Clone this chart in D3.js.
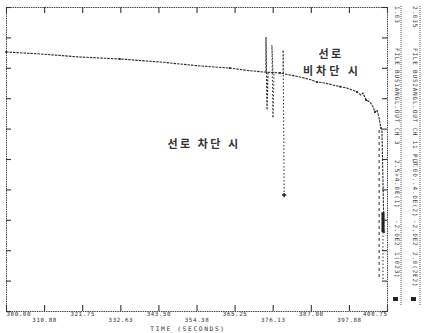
<!DOCTYPE html>
<html>
<head>
<meta charset="utf-8">
<script src="https://cdn.jsdelivr.net/npm/d3@7"></script>
<style>
  body { margin: 0; background: #fff; }
  svg { display: block; }
  text { font-family: "DejaVu Sans Mono", monospace; fill: #333; }
</style>
</head>
<body>
<div id="chart"></div>
<script>
// tick values / labels
const timeTicks = [300.00, 310.88, 321.75, 332.63, 343.50, 354.38, 365.25, 376.13, 387.00, 397.88, 408.75];
const timeLabels = ["300.00", "310.88", "321.75", "332.63", "343.50", "354.38", "365.25", "376.13", "387.00", "397.88", "408.75"];
const angleTicks = [-200, -160, -120, -80, -40, 0, 40, 80, 120, 160, 200];

// main trace
const traceTime = [300.0, 309.7, 321.1, 332.5, 344.0, 355.4, 363.9, 369.0, 373.4, 378.2, 383.9, 386.5, 388.8,
  391.0, 393.3, 395.4, 397.3, 399.0, 400.2, 401.3, 401.9, 402.8, 403.9, 404.8, 405.3, 405.9, 406.5, 407.0, 407.3, 407.6, 407.9];
const traceAngle = [140.8, 138.2, 134.2, 131.6, 127.6, 122.4, 119.7, 116.5, 114.5, 113.2, 107.9, 105.0, 101.3,
  100.0, 97.4, 95.2, 93.4, 90.5, 88.2, 84.2, 86.8, 77.6, 75.0, 68.4, 61.8, 64.5, 54.0, 40.8, 38.2, -27.6, -96.1];

// switching spikes
const spikeATime = [374.2, 374.2, 374.5, 374.8];
const spikeAAngle = [114.5, 160.5, 64.5, 114.5];
const spikeBTime = [376.2, 375.9, 376.2, 376.5];
const spikeBAngle = [113.2, 150.0, 54.0, 113.2];
const spikeCTime = [379.1, 379.1, 379.4];
const spikeCAngle = [111.8, 143.4, -47.4];

// tails after the fall
const tailATime = [407.6, 407.6];
const tailAAngle = [-96.1, -159.2];
const tailBTime = [406.5, 406.5];
const tailBAngle = [38.2, -159.2];

// right hand legend columns (rotated)
const legend1 = ["1.03", "FILE  BUS1ANGL.OUT  CH 3", "2.5+4.0E(1)", "-2.0E2", "1(023)"];
const legend2 = ["2.035", "FILE  BUS2ANGL.OUT  CH 11  PLT", "3.00..4.0E(2)", "-2.0E2", "2.0(2E2)"];

const W = 425, H = 333;
const x = d3.scaleLinear().domain([300, 408.75]).range([6, 387]);
const y = d3.scaleLinear().domain([-200, 200]).range([311, 7]);

const svg = d3.select("#chart").append("svg")
  .attr("width", W)
  .attr("height", H);

// axes
const bottom = svg.append("g")
  .attr("transform", "translate(0," + y(-200) + ")")
  .call(d3.axisBottom(x).tickValues(timeTicks).tickSize(-6).tickFormat((d, i) => timeLabels[i]));
bottom.selectAll("text")
  .attr("font-size", 5.8)
  .attr("letter-spacing", 0.6)
  .attr("y", (d, i) => i % 2 ? 6.5 : 0.5)
  .attr("text-anchor", (d, i) => i === 0 ? "start" : i === timeLabels.length - 1 ? "end" : "middle");

svg.append("g")
  .attr("transform", "translate(0," + y(200) + ")")
  .call(d3.axisTop(x).tickValues(timeTicks).tickSize(-6).tickFormat(""));
svg.append("g")
  .attr("transform", "translate(" + x(300) + ",0)")
  .call(d3.axisLeft(y).tickValues(angleTicks).tickSize(-5).tickFormat(""));
svg.append("g")
  .attr("transform", "translate(" + x(408.75) + ",0)")
  .call(d3.axisRight(y).tickValues(angleTicks).tickSize(-5).tickFormat(""));

svg.selectAll(".domain")
  .attr("stroke", "#444")
  .attr("stroke-dasharray", "1.5,0.8");
svg.selectAll(".tick line")
  .attr("stroke", "#333")
  .attr("stroke-width", 1.1);

svg.append("text")
  .attr("x", 188)
  .attr("y", 330.5)
  .attr("text-anchor", "middle")
  .attr("font-size", 6.3)
  .attr("letter-spacing", 1.6)
  .text("TIME (SECONDS)");

// traces
const line = d3.line().x(d => x(d[0])).y(d => y(d[1]));
function draw(ts, vs, dash, w) {
  svg.append("path")
    .datum(ts.map((t, i) => [t, vs[i]]))
    .attr("fill", "none")
    .attr("stroke", "#2a2a2a")
    .attr("stroke-width", w)
    .attr("stroke-dasharray", dash)
    .attr("d", line);
}
draw(traceTime, traceAngle, "2.5,1", 1.1);
draw(spikeATime, spikeAAngle, "2,1.5", 1.1);
draw(spikeBTime, spikeBAngle, "1.5,2", 1);
draw(spikeCTime, spikeCAngle, "1.5,2", 1);
draw(tailATime, tailAAngle, "1.5,2", 1);
draw(tailBTime, tailBAngle, "3,3", 1);

// small markers along the trace
svg.append("g").selectAll("path")
  .data(traceTime.map((t, i) => [t, traceAngle[i]]).filter((d, i) => i % 3 === 0))
  .join("path")
  .attr("transform", d => "translate(" + x(d[0]) + "," + y(d[1]) + ")")
  .attr("d", d3.symbol(d3.symbolSquare, 3))
  .attr("fill", "#222");
svg.append("path")
  .attr("transform", "translate(" + x(379.4) + "," + y(-47.4) + ")")
  .attr("d", d3.symbol(d3.symbolCross, 10))
  .attr("fill", "#222");
svg.append("rect")
  .attr("x", x(407.6) - 1.5)
  .attr("y", y(-70))
  .attr("width", 3)
  .attr("height", y(-96.1) - y(-70))
  .attr("fill", "#222");

// annotations
function label(tx, px, py, sp) {
  svg.append("text")
    .attr("x", px).attr("y", py)
    .attr("text-anchor", "middle")
    .attr("font-weight", "bold")
    .attr("font-size", 11)
    .attr("letter-spacing", sp)
    .style("font-family", "'Noto Sans CJK KR'")
    .text(tx);
}
label("선로 차단 시", 204, 148, 2.5);
label("선로", 331, 58, 2.5);
label("비차단 시", 332, 75, 3);

// right hand legend panel
[401, 420].forEach(px => {
  svg.append("line")
    .attr("x1", px).attr("x2", px)
    .attr("y1", 6).attr("y2", 306)
    .attr("stroke", "#555")
    .attr("stroke-dasharray", "1,1");
});
const legendY = [6, 48, 160, 220, 252];
[[legend1, 395], [legend2, 413]].forEach(([texts, px]) => {
  texts.forEach((t, i) => {
    svg.append("text")
      .attr("transform", "translate(" + px + "," + legendY[i] + ") rotate(90)")
      .attr("font-size", 6)
      .attr("letter-spacing", 0.8)
      .attr("fill", "#444")
      .text(t);
  });
  svg.append("rect")
    .attr("x", px - 2).attr("y", 297)
    .attr("width", 5).attr("height", 4)
    .attr("fill", "#222");
});
</script>
</body>
</html>
